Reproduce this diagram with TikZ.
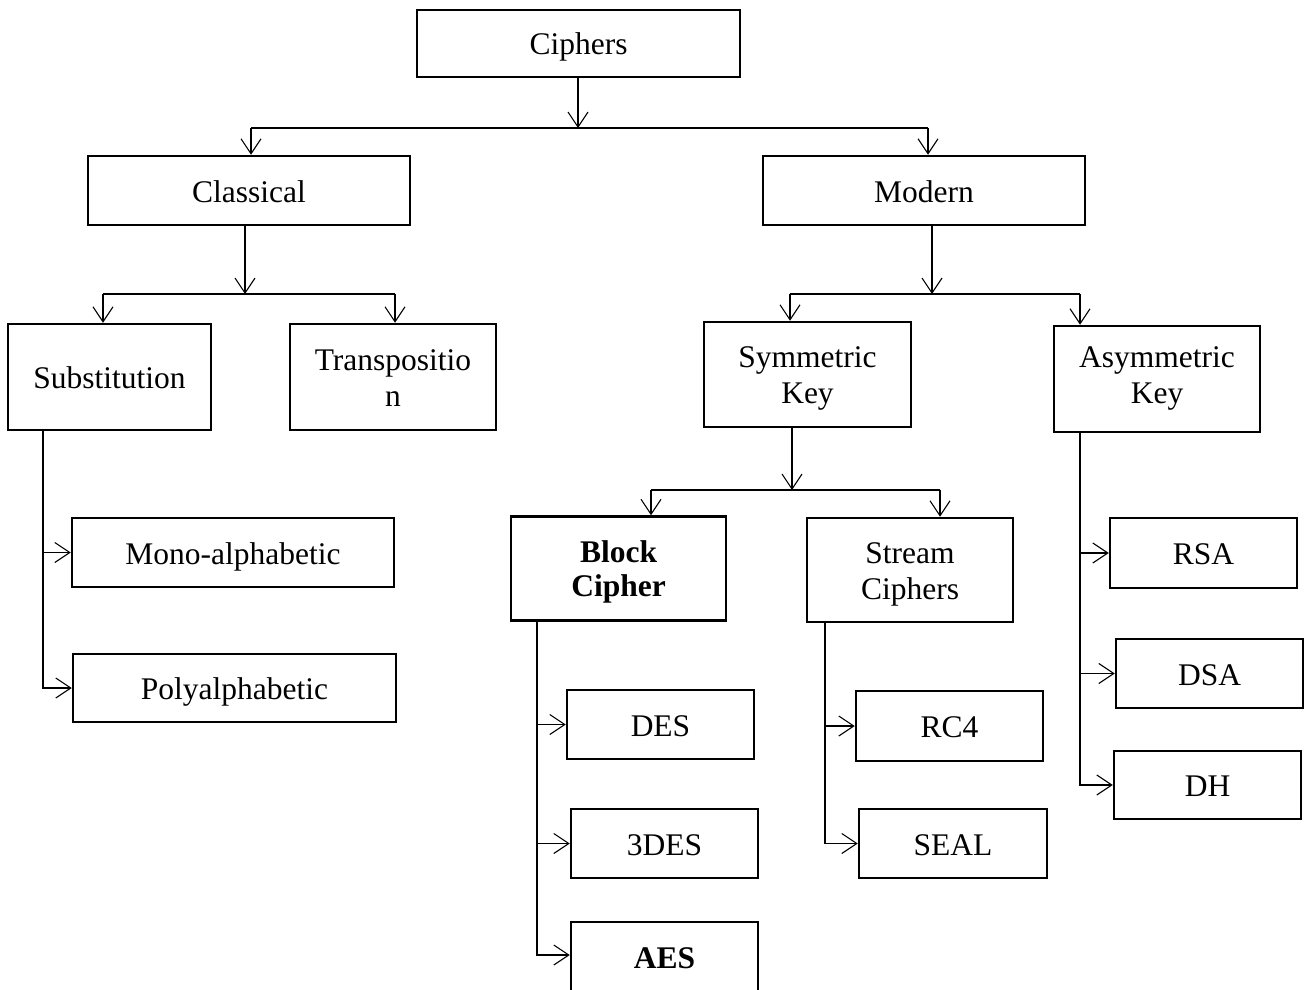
\documentclass[tikz,border=0pt]{standalone}
\usepackage{fontspec}
\setmainfont{Liberation Serif}
\usetikzlibrary{arrows.meta}
\newcommand{\twolines}[2]{\begin{tabular}[t]{@{}c@{}}#1\\#2\end{tabular}}
\begin{document}
\begin{tikzpicture}[x=1pt,y=-1pt,
  box/.style={draw, line width=2.5pt, inner sep=0pt, align=center,
    font=\fontsize{31.5}{36}\selectfont, text height=25pt, text depth=2pt},
  two/.style={text height=22pt, text depth=#1},
  two/.default=36pt,
  bw/.style={minimum width=#1},
  bh/.style={minimum height=#1},
  conn/.style={line width=1.1pt},
  arr/.style={conn, -{Straight Barb[length=15pt,width=20pt]}}]
\useasboundingbox (0,0) rectangle (1306,990);
\clip (0,0) rectangle (1306,990);
% nodes
\node[box,bw=323pt,bh=67pt] (ciph) at (578.5,43.5) {Ciphers};
\node[box,bw=322pt,bh=69pt] (class) at (249,190.5) {Classical};
\node[box,bw=322pt,bh=69pt] (mod) at (924,190.5) {Modern};
\node[box,bw=203pt,bh=106pt] (sub) at (109.5,377) {Substitution};
\node[box,two,bw=206pt,bh=106pt] (trans) at (393,377) {\twolines{Transpositio}{n}};
\node[box,two,bw=207pt,bh=105pt] (sym) at (807.5,374.5) {\twolines{Symmetric}{Key}};
\node[box,two=46pt,bw=206pt,bh=106pt] (asym) at (1157,379) {\twolines{Asymmetric}{Key}};
\node[box,bw=322pt,bh=69pt] (mono) at (233,552.5) {Mono-alphabetic};
\node[box,bw=323pt,bh=68pt] (poly) at (234.5,688) {Polyalphabetic};
\node[box,two=35pt,bw=215pt,bh=104pt] (block) at (618.5,568.5) {\bfseries\begin{tabular}[t]{@{}c@{}}\bfseries Block\\[-2pt]\bfseries Cipher\end{tabular}};
\node[box,two,bw=206pt,bh=104pt] (stream) at (910,570) {\twolines{Stream}{Ciphers}};
\node[box,bw=187pt,bh=70pt] (rsa) at (1203.5,553) {RSA};
\node[box,bw=187pt,bh=69pt] (dsa) at (1209.5,673.5) {DSA};
\node[box,bw=187pt,bh=68pt] (dh) at (1207.5,785) {DH};
\node[box,bw=187pt,bh=69pt] (des) at (660.5,724.5) {DES};
\node[box,bw=187pt,bh=69pt] (tdes) at (664.5,843.5) {3DES};
\node[box,bw=187pt,bh=69pt] (aes) at (664.5,956.5) {\bfseries AES};
\node[box,bw=187pt,bh=70pt] (rc4) at (949.5,726) {RC4};
\node[box,bw=188pt,bh=69pt] (seal) at (953,843.5) {SEAL};
% junctions
\coordinate (j1) at (578,128);
\coordinate (j1l) at (251,128);
\coordinate (j1r) at (928,128);
\coordinate (j2) at (245,294);
\coordinate (j2l) at (103,294);
\coordinate (j2r) at (395,294);
\coordinate (j3) at (932,294);
\coordinate (j3l) at (790,294);
\coordinate (j3r) at (1080,294);
\coordinate (j4) at (792,490);
\coordinate (j4l) at (651,490);
\coordinate (j4r) at (940,490);
\coordinate (s0) at (43,430);
\coordinate (b0) at (537,620);
\coordinate (t0) at (825,622);
\coordinate (a0) at (1080,432);
% connectors
\draw[arr] (ciph.south -| j1) -- (j1);
\draw[conn] (j1l) -- (j1r);
\draw[arr] (j1l) -- (j1l |- class.north);
\draw[arr] (j1r) -- (j1r |- mod.north);
\draw[arr] (class.south -| j2) -- (j2);
\draw[conn] (j2l) -- (j2r);
\draw[arr] (j2l) -- (j2l |- sub.north);
\draw[arr] (j2r) -- (j2r |- trans.north);
\draw[arr] (mod.south -| j3) -- (j3);
\draw[conn] (j3l) -- (j3r);
\draw[arr] (j3l) -- (j3l |- sym.north);
\draw[arr] (j3r) -- (j3r |- asym.north);
\draw[arr] (sym.south -| j4) -- (j4);
\draw[conn] (j4l) -- (j4r);
\draw[arr] (j4l) -- (j4l |- block.north);
\draw[arr] (j4r) -- (j4r |- stream.north);
\draw[arr] (s0) |- (mono.west);
\draw[arr] (s0) |- (poly.west);
\draw[arr] (b0) |- (des.west);
\draw[arr] (b0) |- (tdes.west);
\draw[arr] (b0) |- ([yshift=1.5pt]aes.west);
\draw[arr] (t0) |- (rc4.west);
\draw[arr] (t0) |- (seal.west);
\draw[arr] (a0) |- (rsa.west);
\draw[arr] (a0) |- (dsa.west);
\draw[arr] (a0) |- (dh.west);
\end{tikzpicture}
\end{document}
